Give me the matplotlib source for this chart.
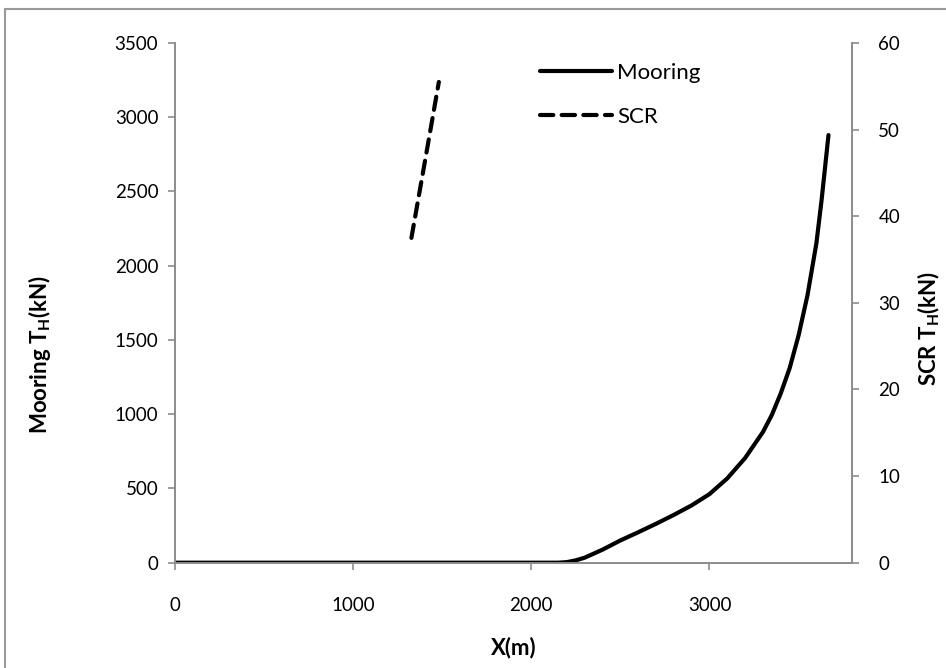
import matplotlib
matplotlib.use("Agg")
import matplotlib.pyplot as plt
from matplotlib.patches import Rectangle

# Mooring horizontal tension (left axis)
mooring_x = [0, 500, 1000, 1500, 2000, 2150, 2200, 2250, 2300, 2400, 2500, 2600, 2700, 2800,
             2900, 3000, 3100, 3200, 3300, 3350, 3400, 3450, 3500, 3550, 3600, 3630, 3668]
mooring_th = [0, 0, 0, 0, 0, 0, 4, 16, 34, 88, 150, 205, 262, 322,
              386, 462, 568, 705, 880, 995, 1140, 1310, 1530, 1800, 2150, 2450, 2880]

# SCR horizontal tension (right axis)
scr_x = [1327, 1400, 1481]
scr_th = [37.5, 46.0, 55.5]

x_ticks = [0, 1000, 2000, 3000]
left_ticks = [0, 500, 1000, 1500, 2000, 2500, 3000, 3500]
right_ticks = [0, 10, 20, 30, 40, 50, 60]

W, H = 946, 668
fig = plt.figure(figsize=(W / 100, H / 100), dpi=100)
plt.rcParams['font.family'] = ['Lato', 'DejaVu Sans']

# chart-area border like Excel
fig.patches.append(Rectangle((5 / W, -0.05), 1.1, 1 - 9 / H + 0.05, transform=fig.transFigure,
                             fill=False, edgecolor='#9a9a9a', linewidth=1.5))

ax = fig.add_axes([175 / W, 1 - 562.7 / H, (852 - 175) / W, (562.7 - 43) / H])
ax2 = ax.twinx()

axis_col = '#8c8c8c'
fs = 13.5
lfs = 16

ln1, = ax.plot(mooring_x, mooring_th, color='black', lw=3, label='Mooring',
               solid_capstyle='round')
ln2, = ax2.plot(scr_x, scr_th, color='black', lw=3, label='SCR',
                dashes=(3.2, 2.0), dash_capstyle='round')

ax.set_xlim(0, 3800)
ax.set_ylim(0, 3500)
ax2.set_ylim(0, 60)
ax.set_xticks(x_ticks)
ax.set_yticks(left_ticks)
ax2.set_yticks(right_ticks)

for a in (ax, ax2):
    a.spines['top'].set_visible(False)
    for s in ('left', 'right', 'bottom'):
        a.spines[s].set_color(axis_col)
        a.spines[s].set_linewidth(1.2)
    a.tick_params(colors=axis_col, labelcolor='black', labelsize=fs, length=5, width=1.2)
ax.tick_params(axis='y', pad=7)
ax2.tick_params(axis='y', pad=14)
ax.tick_params(axis='x', pad=20)

ax.set_xlabel('X(m)', fontsize=lfs, fontweight='bold', labelpad=16)
ax.set_ylabel('Mooring T$_\\mathregular{H}$(kN)', fontsize=lfs, fontweight='bold')
ax.yaxis.set_label_coords(-0.18, 0.40)
ax2.set_ylabel('SCR T$_\\mathregular{H}$(kN)', fontsize=lfs, fontweight='bold', rotation=90)
ax2.yaxis.set_label_coords(1.094, 0.45)

leg = ax.legend([ln1, ln2], ['Mooring', 'SCR'], loc='upper left',
                bbox_to_anchor=(540 / W, 1 - 63 / H), bbox_transform=fig.transFigure,
                frameon=False, fontsize=16, handlelength=3.25, handletextpad=0.22,
                labelspacing=1.07, borderpad=0, borderaxespad=0)

fig.savefig('out.png', dpi=100)
